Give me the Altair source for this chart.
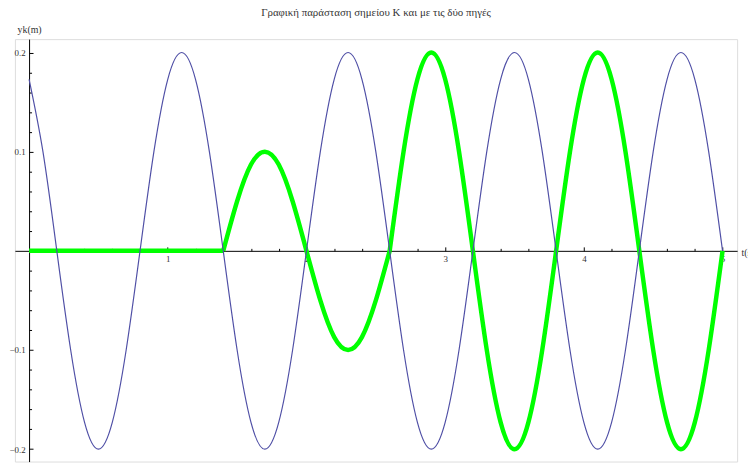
import altair as alt
import pandas as pd

# time samples (s)
t_vals = [0.0, 0.1, 0.2, 0.3, 0.4, 0.5, 0.6, 0.7, 0.8, 0.9,
          1.0, 1.1, 1.2, 1.3, 1.4, 1.5, 1.6, 1.7, 1.8, 1.9,
          2.0, 2.1, 2.2, 2.3, 2.4, 2.5, 2.6, 2.7, 2.8, 2.9,
          3.0, 3.1, 3.2, 3.3, 3.4, 3.5, 3.6, 3.7, 3.8, 3.9,
          4.0, 4.1, 4.2, 4.3, 4.4, 4.5, 4.6, 4.7, 4.8, 4.9, 5.0]

# thin blue curve (m)
blue_vals = [0.173, 0.1, 0.0, -0.1, -0.173, -0.2, -0.173, -0.1, 0.0, 0.1, 0.173, 0.2,
             0.173, 0.1, 0.0, -0.1, -0.173, -0.2, -0.173, -0.1, 0.0, 0.1, 0.173, 0.2,
             0.173, 0.1, 0.0, -0.1, -0.173, -0.2, -0.173, -0.1, 0.0, 0.1, 0.173, 0.2,
             0.173, 0.1, 0.0, -0.1, -0.173, -0.2, -0.173, -0.1, 0.0, 0.1, 0.173, 0.2,
             0.173, 0.1, 0.0]

# thick green curve (m)
green_vals = [0.0, 0.0, 0.0, 0.0, 0.0, 0.0, 0.0, 0.0, 0.0, 0.0,
              0.0, 0.0, 0.0, 0.0, 0.0,
              0.05, 0.087, 0.1, 0.087, 0.05, 0.0, -0.05, -0.087, -0.1, -0.087, -0.05, 0.0,
              0.1, 0.173, 0.2, 0.173, 0.1, 0.0, -0.1, -0.173, -0.2, -0.173, -0.1, 0.0,
              0.1, 0.173, 0.2, 0.173, 0.1, 0.0, -0.1, -0.173, -0.2, -0.173, -0.1, 0.0]

# times where the green curve changes regime (start, amplitude change)
green_breaks = [1.4, 2.6]

x_major = [1, 2, 3, 4, 5]
x_minor = [0.2, 0.4, 0.6, 0.8, 1.2, 1.4, 1.6, 1.8, 2.2, 2.4, 2.6, 2.8,
           3.2, 3.4, 3.6, 3.8, 4.2, 4.4, 4.6, 4.8]
y_major = [-0.2, -0.1, 0.1, 0.2]
y_minor = [-0.18, -0.16, -0.14, -0.12, -0.08, -0.06, -0.04, -0.02,
           0.02, 0.04, 0.06, 0.08, 0.12, 0.14, 0.16, 0.18]

title_text = "Γραφική παράσταση σημείου Κ και με τις δύο πηγές"

rows = []
for t, b in zip(t_vals, blue_vals):
    rows.append({"t": t, "y": b, "series": "blue", "seg": "b"})
edges = [0.0] + green_breaks + [5.0]
for t, g in zip(t_vals, green_vals):
    for k in range(len(edges) - 1):
        if edges[k] - 1e-9 <= t <= edges[k + 1] + 1e-9:
            rows.append({"t": t, "y": g, "series": "green", "seg": f"g{k}"})
df = pd.DataFrame(rows)

W, H = 730, 427
x_scale = alt.Scale(domain=[-0.102, 5.105], nice=False, zero=False)
y_scale = alt.Scale(domain=[-0.2125, 0.2135], nice=False, zero=False)
X_OFF = -14.3          # y axis sits at t = 0
Y_OFF_BOTTOM = -213    # x axis sits at y = 0 (from bottom)
Y_OFF_TOP = -214       # x axis sits at y = 0 (from top)
Y_RIGHT_OFF = -(730 - 14.3)

FONT = "Liberation Serif"

label_x_axis = alt.Axis(orient="bottom", offset=Y_OFF_BOTTOM, values=x_major, tickSize=0,
                        labelPadding=4, labelFont=FONT, labelFontSize=9, labelColor="#333",
                        domainColor="black", domainWidth=1, grid=False, format="d",
                        title="t(s)", titleFont=FONT, titleFontSize=10, titleFontWeight="normal",
                        titleAngle=0, titleX=W + 4, titleY=2, titleAlign="left",
                        titleBaseline="middle", titleColor="#333")
label_y_axis = alt.Axis(orient="left", offset=X_OFF, values=y_major, tickSize=0,
                        labelPadding=4, labelFont=FONT, labelFontSize=9, labelColor="#333",
                        domainColor="black", domainWidth=1, grid=False, format=".1f",
                        title="yk(m)", titleFont=FONT, titleFontSize=10, titleFontWeight="normal",
                        titleAngle=0, titleX=0, titleY=-7, titleAlign="center",
                        titleBaseline="alphabetic", titleColor="#333")
major_x_axis = alt.Axis(orient="top", offset=Y_OFF_TOP, values=x_major, tickSize=4,
                        labels=False, domain=False, grid=False, title=None,
                        tickColor="black", tickWidth=1)
major_y_axis = alt.Axis(orient="right", offset=Y_RIGHT_OFF, values=y_major, tickSize=4,
                        labels=False, domain=False, grid=False, title=None,
                        tickColor="black", tickWidth=1)
minor_x_axis = alt.Axis(orient="top", offset=Y_OFF_TOP, values=x_minor, tickSize=2.5,
                        labels=False, domain=False, grid=False, title=None,
                        tickColor="black", tickWidth=1)
minor_y_axis = alt.Axis(orient="right", offset=Y_RIGHT_OFF, values=y_minor, tickSize=2.5,
                        labels=False, domain=False, grid=False, title=None,
                        tickColor="black", tickWidth=1)

base = alt.Chart(df)

ghost = base.transform_filter(alt.datum.series == "blue").mark_line(opacity=0).encode(
    x=alt.X("t:Q", scale=x_scale, axis=major_x_axis),
    y=alt.Y("y:Q", scale=y_scale, axis=major_y_axis),
)

green = base.transform_filter(alt.datum.series == "green").mark_line(
    color="#00ff00", strokeWidth=4.5, interpolate="natural", clip=True
).encode(
    x=alt.X("t:Q", scale=x_scale, axis=minor_x_axis),
    y=alt.Y("y:Q", scale=y_scale, axis=minor_y_axis),
    detail="seg:N",
)

blue = base.transform_filter(alt.datum.series == "blue").mark_line(
    color="#5050a6", strokeWidth=1.2, interpolate="natural", clip=True
).encode(
    x=alt.X("t:Q", scale=x_scale, axis=label_x_axis),
    y=alt.Y("y:Q", scale=y_scale, axis=label_y_axis),
)

chart = alt.layer(ghost, green, blue).resolve_axis(
    x="independent", y="independent"
).properties(
    width=W, height=H,
    autosize=alt.AutoSizeParams(type="none"),
    padding={"left": 7, "top": 29, "right": 11, "bottom": 0},
    title=alt.TitleParams(title_text, font=FONT, fontSize=11, fontWeight="normal",
                          color="#333", anchor="middle", offset=6, dy=9,
                          baseline="alphabetic"),
).configure_view(stroke=None).configure(background="white")

chart.save("out.html", embed_options={"renderer": "svg", "actions": False})
